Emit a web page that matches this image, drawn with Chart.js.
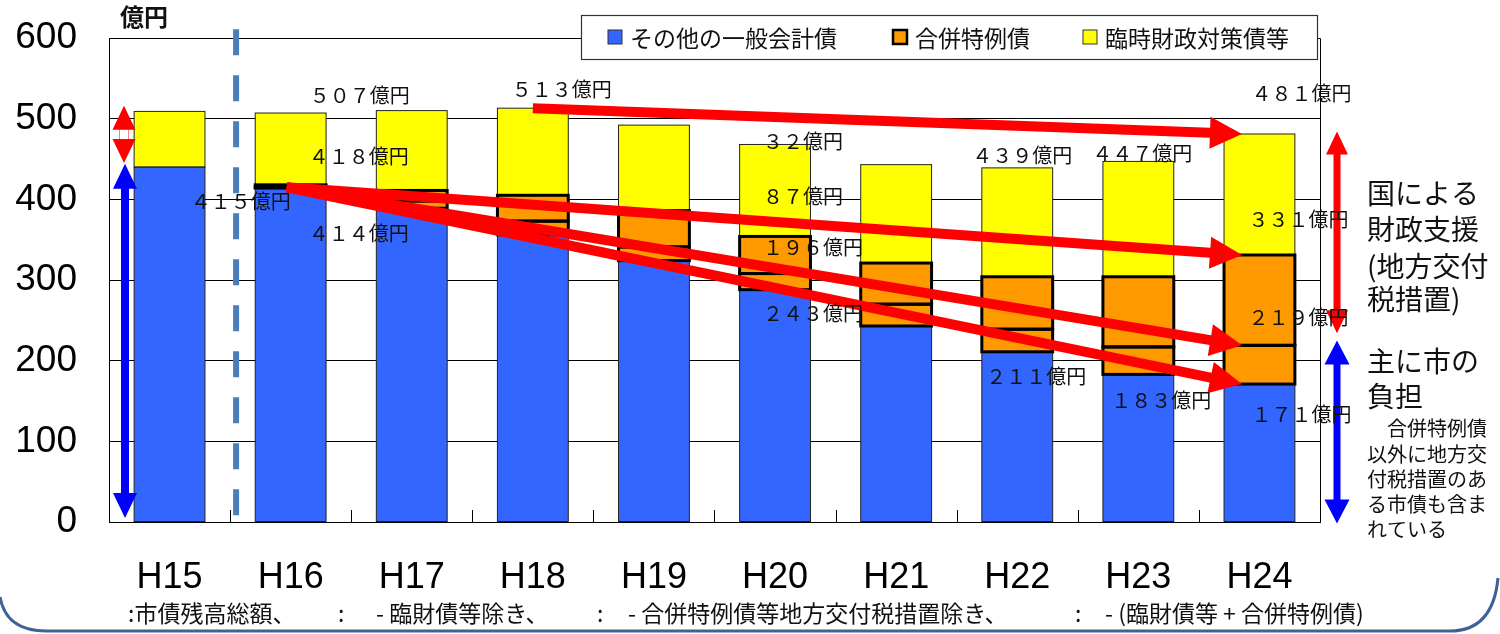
<!DOCTYPE html>
<html>
<head>
<meta charset="utf-8">
<script src="https://cdn.jsdelivr.net/npm/chart.js@4.4.1/dist/chart.umd.min.js"></script>
<style>
  html, body { margin: 0; padding: 0; background: #fff; }
  #wrap { position: relative; width: 1500px; height: 634px; }
</style>
</head>
<body>
<div id="wrap"><canvas id="debt" width="1500" height="634"></canvas></div>
<script>
// 年度
const years = ['H15', 'H16', 'H17', 'H18', 'H19', 'H20', 'H21', 'H22', 'H23', 'H24'];

// 市債残高総額（億円）
const totalDebt = [509, 507, 510, 513, 492, 468, 443, 439, 447, 481];
// 臨財債等を除いた残高
const exRinzai = [440, 418, 411, 405, 386, 354, 321, 304, 304, 331];
// 合併特例債のうち地方交付税措置分も除いた残高
const exGrantCovered = [440, 415, 398, 373, 341, 308, 270, 239, 217, 219];
// 臨財債等と合併特例債を除いた残高（その他の一般会計債）
const exBoth = [440, 414, 389, 356, 324, 288, 243, 211, 183, 171];

const yTicks = [0, 100, 200, 300, 400, 500, 600];

const seriesNames = ['その他の一般会計債', '合併特例債', '臨時財政対策債等'];
const colors = { blue: '#3366FF', orange: '#FF9900', yellow: '#FFFF00' };

// 棒の中に書く金額の注記: [文字, 年度の位置, 年度中心からの横ずれ(px), 縦位置(億円)]
const valueNotes = [
  ['５０７億円', 1, 19, 529],
  ['４１８億円', 1, 18, 453],
  ['４１５億円', 1, -100, 397],
  ['４１４億円', 1, 18, 358],
  ['５１３億円', 3, -21, 536],
  ['３２億円', 5, -12, 472],
  ['８７億円', 5, -12, 404],
  ['１９６億円', 5, -12, 340],
  ['２４３億円', 5, -12, 259],
  ['４３９億円', 7, -45, 455],
  ['２１１億円', 7, -31, 180],
  ['４４７億円', 8, -46, 457],
  ['１８３億円', 8, -27, 151],
  ['４８１億円', 9, -8, 531],
  ['３３１億円', 9, -11, 375],
  ['２１９億円', 9, -11, 254],
  ['１７１億円', 9, -8, 133]
];

// 推移を示す矢印: 起点[年度, 億円] → 終点[年度, 億円]
const trendArrows = [
  { from: [3, 513], fromDx: 0, to: [9, 481] },
  { from: [1, 415], fromDx: -4, to: [9, 331] },
  { from: [1, 415], fromDx: -4, to: [9, 219] },
  { from: [1, 415], fromDx: -4, to: [9, 171] }
];

// 右側の説明
const supportText = ['国による', '財政支援', '(地方交付', '税措置)'];
const burdenText = ['主に市の', '負担'];
const burdenNote = ['　合併特例債', '以外に地方交', '付税措置のあ', 'る市債も含ま', 'れている'];

// 下部の凡例説明
const footNotes = [
  [':市債残高総額、', 128],
  [':', 338],
  ['- 臨財債等除き、', 376],
  [':', 597],
  ['- 合併特例債等地方交付税措置除き、', 628],
  [':', 1075],
  ['- (臨財債等 + 合併特例債)', 1105]
];

const diff = (a, b) => a.map((v, i) => (v - b[i]) === 0 ? null : v - b[i]);

const CJK = '"Noto Sans CJK JP", "Noto Sans", sans-serif';

function drawArrow(ctx, x1, y1, x2, y2, shaft, headLen, headW, color) {
  const ang = Math.atan2(y2 - y1, x2 - x1);
  const len = Math.hypot(x2 - x1, y2 - y1);
  ctx.save();
  ctx.translate(x1, y1);
  ctx.rotate(ang);
  ctx.fillStyle = color;
  ctx.beginPath();
  ctx.moveTo(0, -shaft / 2);
  ctx.lineTo(len - headLen, -shaft / 2);
  ctx.lineTo(len - headLen, -headW / 2);
  ctx.lineTo(len, 0);
  ctx.lineTo(len - headLen, headW / 2);
  ctx.lineTo(len - headLen, shaft / 2);
  ctx.lineTo(0, shaft / 2);
  ctx.closePath();
  ctx.fill();
  ctx.restore();
}

function drawDoubleArrow(ctx, x, yTop, yBot, shaft, headLen, headW, color) {
  ctx.save();
  ctx.fillStyle = color;
  ctx.beginPath();
  ctx.moveTo(x, yTop);
  ctx.lineTo(x + headW / 2, yTop + headLen);
  ctx.lineTo(x + shaft / 2, yTop + headLen);
  ctx.lineTo(x + shaft / 2, yBot - headLen);
  ctx.lineTo(x + headW / 2, yBot - headLen);
  ctx.lineTo(x, yBot);
  ctx.lineTo(x - headW / 2, yBot - headLen);
  ctx.lineTo(x - shaft / 2, yBot - headLen);
  ctx.lineTo(x - shaft / 2, yTop + headLen);
  ctx.lineTo(x - headW / 2, yTop + headLen);
  ctx.closePath();
  ctx.fill();
  ctx.restore();
}

const overlay = {
  id: 'overlay',
  beforeDraw(chart) {
    const ctx = chart.ctx;
    ctx.save();
    ctx.fillStyle = '#fff';
    ctx.fillRect(0, 0, chart.width, chart.height);
    ctx.restore();
  },
  afterDatasetsDraw(chart) {
    const ctx = chart.ctx;
    const area = chart.chartArea;
    const xs = chart.scales.x, ys = chart.scales.y;
    const cx = i => xs.getPixelForValue(i);
    const cy = v => ys.getPixelForValue(v);
    const step = xs.getPixelForValue(1) - xs.getPixelForValue(0);

    // 棒の枠線（中心線上に描く）
    const outline = (dsIndex, width, color) => {
      const meta = chart.getDatasetMeta(dsIndex);
      meta.data.forEach((el, i) => {
        const raw = chart.data.datasets[dsIndex].data[i];
        if (raw === null || raw === undefined) return;
        const { x, y, base, width: w } = el.getProps(['x', 'y', 'base', 'width'], true);
        ctx.save();
        ctx.strokeStyle = color;
        ctx.lineWidth = width;
        ctx.strokeRect(x - w / 2, Math.min(y, base), w, Math.abs(base - y));
        ctx.restore();
      });
    };
    outline(0, 1, '#222');
    outline(3, 1, '#222');
    outline(1, 3, '#000');
    outline(2, 3, '#000');

    // 枠
    ctx.save();
    ctx.strokeStyle = '#000';
    ctx.lineWidth = 1;
    ctx.beginPath();
    ctx.moveTo(area.left, area.top + 0.5);
    ctx.lineTo(area.right + 0.5, area.top + 0.5);
    ctx.lineTo(area.right + 0.5, area.bottom);
    ctx.stroke();
    // 目盛（内向き）
    for (let k = 1; k < years.length; k++) {
      const x = Math.round(area.left + step * k) + 0.5;
      ctx.beginPath();
      ctx.moveTo(x, area.bottom);
      ctx.lineTo(x, area.bottom - 12);
      ctx.stroke();
    }
    ctx.restore();

    // H15 と H16 の区切り線
    ctx.save();
    ctx.strokeStyle = '#4A7EBB';
    ctx.lineWidth = 6;
    ctx.setLineDash([26, 20]);
    const dx = area.left + step + 6;
    ctx.beginPath();
    ctx.moveTo(dx, cy(611));
    ctx.lineTo(dx, cy(0));
    ctx.stroke();
    ctx.restore();

    // 推移の矢印
    trendArrows.forEach(a => {
      drawArrow(ctx,
        cx(a.from[0]) + a.fromDx, cy(a.from[1]),
        cx(a.to[0]) - 17.5, cy(a.to[1]),
        10, 32, 32, '#FF0000');
    });

    // 左右の範囲矢印
    const lx = area.left + 15;
    drawDoubleArrow(ctx, lx, cy(516), cy(445), 9, 24, 23, '#FF0000');
    ctx.save();
    ctx.fillStyle = '#fff';
    ctx.fillRect(lx - 4, cy(516) + 24, 8, cy(445) - cy(516) - 48);
    ctx.restore();
    drawDoubleArrow(ctx, lx + 1, cy(444), cy(5), 8, 25, 24, '#0000FF');
    const rx = area.right + 17;
    drawDoubleArrow(ctx, rx, cy(484), cy(234), 7, 23, 22, '#FF0000');
    drawDoubleArrow(ctx, rx, cy(225), cy(-2), 7, 24, 25, '#0000FF');

    // 凡例
    ctx.save();
    ctx.fillStyle = '#fff';
    ctx.fillRect(581, 15, 736, 44);
    ctx.strokeStyle = '#333';
    ctx.lineWidth = 1.2;
    ctx.strokeRect(581.5, 15.5, 736, 44);
    const legendItems = [
      { name: seriesNames[0], fill: colors.blue, border: '#333', bw: 1, x: 608 },
      { name: seriesNames[1], fill: colors.orange, border: '#000', bw: 2.5, x: 893 },
      { name: seriesNames[2], fill: colors.yellow, border: '#333', bw: 1, x: 1083 }
    ];
    ctx.font = '23px ' + CJK;
    ctx.textBaseline = 'middle';
    legendItems.forEach(it => {
      ctx.fillStyle = it.fill;
      ctx.fillRect(it.x, 30, 14, 14);
      ctx.strokeStyle = it.border;
      ctx.lineWidth = it.bw;
      ctx.strokeRect(it.x, 30, 14, 14);
      ctx.fillStyle = '#111';
      ctx.fillText(it.name, it.x + 22, 38);
    });
    ctx.restore();

    // 金額の注記
    ctx.save();
    ctx.fillStyle = '#111';
    ctx.font = '20px ' + CJK;
    ctx.textBaseline = 'middle';
    valueNotes.forEach(([t, i, off, v]) => {
      ctx.fillText(t, cx(i) + off, cy(v));
    });
    ctx.restore();

    // 単位
    ctx.save();
    ctx.fillStyle = '#111';
    ctx.font = 'bold 24px ' + CJK;
    ctx.textBaseline = 'middle';
    ctx.fillText('億円', area.left + 11, 17);
    ctx.restore();

    // 右側の説明
    ctx.save();
    ctx.fillStyle = '#111';
    ctx.textBaseline = 'middle';
    const tx = area.right + 47;
    ctx.font = '28px ' + CJK;
    [193, 229, 266, 299].forEach((y, k) => ctx.fillText(supportText[k], tx, y));
    [361, 396].forEach((y, k) => ctx.fillText(burdenText[k], tx, y));
    ctx.font = '20px ' + CJK;
    [428, 454, 479, 504, 529].forEach((y, k) => ctx.fillText(burdenNote[k], tx, y));
    ctx.restore();

    // 下部の説明
    ctx.save();
    ctx.fillStyle = '#111';
    ctx.font = '23px ' + CJK;
    ctx.textBaseline = 'middle';
    footNotes.forEach(([t, x]) => ctx.fillText(t, x, 613));
    ctx.restore();

    // 下端の飾り枠
    ctx.save();
    ctx.strokeStyle = '#3F6296';
    ctx.lineWidth = 3;
    ctx.beginPath();
    ctx.moveTo(0, 597);
    ctx.quadraticCurveTo(6, 631, 46, 631);
    ctx.lineTo(1450, 631);
    ctx.quadraticCurveTo(1493, 631, 1498, 578);
    ctx.stroke();
    ctx.restore();
  }
};

Chart.defaults.font.family = '"Liberation Sans", Arial, sans-serif';
Chart.defaults.color = '#000';

const noOverflow = s => { s.paddingTop = 0; s.paddingBottom = 0; s.paddingLeft = 0; s.paddingRight = 0; };

new Chart(document.getElementById('debt'), {
  type: 'bar',
  data: {
    labels: years,
    datasets: [
      { label: seriesNames[0], data: exBoth, backgroundColor: colors.blue },
      { label: seriesNames[1], data: diff(exGrantCovered, exBoth), backgroundColor: colors.orange },
      { label: seriesNames[1], data: diff(exRinzai, exGrantCovered), backgroundColor: colors.orange },
      { label: seriesNames[2], data: diff(totalDebt, exRinzai), backgroundColor: colors.yellow }
    ]
  },
  options: {
    responsive: false,
    animation: false,
    events: [],
    layout: { padding: { top: 38, right: 180, left: 0, bottom: 0 } },
    datasets: {
      bar: { categoryPercentage: 1, barPercentage: 0.585, borderWidth: 0 }
    },
    plugins: { legend: { display: false }, tooltip: { enabled: false }, title: { display: false } },
    scales: {
      x: {
        stacked: true,
        grid: { display: false, drawTicks: false },
        border: { display: true, color: '#000', width: 1 },
        ticks: { font: { size: 36 }, padding: 34, color: '#000' },
        afterFit(s) { s.height = 112; noOverflow(s); }
      },
      y: {
        stacked: true,
        min: 0,
        max: 600,
        afterBuildTicks(s) { s.ticks = yTicks.map(v => ({ value: v })); },
        grid: { color: '#000', lineWidth: 1, drawTicks: false },
        border: { display: true, color: '#000', width: 1 },
        ticks: { font: { size: 37 }, padding: 32, color: '#000' },
        afterFit(s) { s.width = 109; noOverflow(s); }
      }
    }
  },
  plugins: [overlay]
});
</script>
</body>
</html>
